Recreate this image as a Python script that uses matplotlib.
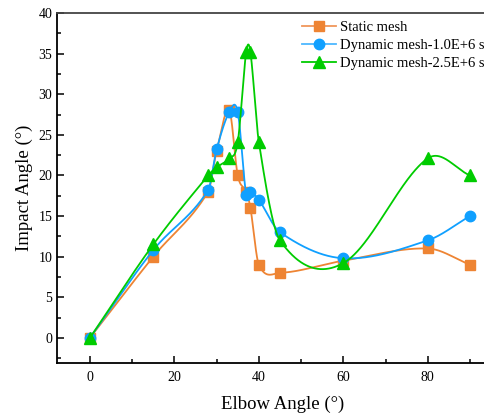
import numpy as np
import matplotlib
matplotlib.use("Agg")
import matplotlib.pyplot as plt
from matplotlib.ticker import MultipleLocator
from matplotlib.lines import Line2D

elbow = [0, 15, 28, 30, 33, 35, 37, 38, 40, 45, 60, 80, 90]
static_mesh = [0, 10.0, 18.0, 23.0, 28.0, 20.0, 18.0, 16.0, 9.0, 8.0, 9.5, 11.0, 9.0]
dyn_1e6 = [0, 10.8, 18.2, 23.2, 27.8, 27.8, 17.6, 18.0, 17.0, 13.0, 9.8, 12.0, 15.0]
dyn_25e6 = [0, 11.5, 20.0, 21.0, 22.1, 24.1, 35.2, 35.2, 24.1, 12.0, 9.2, 22.1, 20.0]
labels = ["Static mesh", "Dynamic mesh-1.0E+6 s", "Dynamic mesh-2.5E+6 s"]


def hermite_spline(x, y, xs):
    x = np.asarray(x, float); y = np.asarray(y, float)
    n = len(x)
    m = np.zeros(n)
    m[0] = (y[1] - y[0]) / (x[1] - x[0])
    m[-1] = (y[-1] - y[-2]) / (x[-1] - x[-2])
    for i in range(1, n - 1):
        m[i] = (y[i + 1] - y[i - 1]) / (x[i + 1] - x[i - 1])
    idx = np.clip(np.searchsorted(x, xs) - 1, 0, n - 2)
    x0 = x[idx]; h = x[idx + 1] - x0
    t = (xs - x0) / h
    h00 = 2 * t**3 - 3 * t**2 + 1
    h10 = t**3 - 2 * t**2 + t
    h01 = -2 * t**3 + 3 * t**2
    h11 = t**3 - t**2
    return h00 * y[idx] + h10 * h * m[idx] + h01 * y[idx + 1] + h11 * h * m[idx + 1]


plt.rcParams['font.family'] = ['Liberation Serif', 'DejaVu Serif']
fig = plt.figure(figsize=(4.84, 4.16), dpi=100)
ax = fig.add_axes([57 / 484, 1 - 363 / 416, 451 / 484, 350 / 416])

series = [
    (static_mesh, '#EE8433', 's', 6.5, '#F0965A'),
    (dyn_1e6, '#10A0FF', 'o', 7.5, '#4DB8FF'),
    (dyn_25e6, '#00CC00', '^', 8, '#00CC00'),
]
xs = np.linspace(0, 90, 1500)
handles = []
for i, (vals, col, mk, ms, lcol) in enumerate(series):
    ys = hermite_spline(elbow, vals, xs)
    ax.plot(xs, ys, color=col, lw=1.3, zorder=2 + i)
    ax.plot(elbow, vals, ls='none', marker=mk, ms=ms, color=col,
            mec=col, zorder=2 + i)
    handles.append(Line2D([], [], color=lcol, lw=1.3, marker=mk, ms=ms,
                          mfc=col, mec=col))

ax.set_xlim(-7.8, 99)
ax.set_ylim(-3.1, 40)
ax.xaxis.set_major_locator(MultipleLocator(20))
ax.xaxis.set_minor_locator(MultipleLocator(10))
ax.yaxis.set_major_locator(MultipleLocator(5))
ax.yaxis.set_minor_locator(MultipleLocator(2.5))
ax.tick_params(which='both', direction='in', labelsize=10, width=1.1)
ax.tick_params(which='major', length=5)
ax.tick_params(which='minor', length=3)
ax.tick_params(axis='x', pad=6)
for s in ax.spines.values():
    s.set_linewidth(1.3)
ax.spines['top'].set_color('#444444')

ax.set_xlabel('Elbow Angle (°)', fontsize=13.5, labelpad=8.5)
ax.set_ylabel('Impact Angle (°)', fontsize=13.5, labelpad=4)

leg = ax.legend(handles, labels, loc='upper left',
                bbox_to_anchor=((301 - 57) / 451 - 0.01, 0.995),
                frameon=False, fontsize=10.5, handlelength=2.3,
                handletextpad=0.3, labelspacing=0.35, borderaxespad=0)

fig.savefig('out.png', dpi=100)
